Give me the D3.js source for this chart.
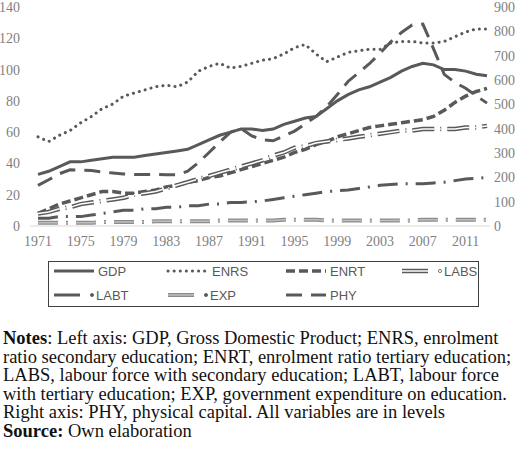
<!DOCTYPE html>
<html>
<head>
<meta charset="utf-8">
<script src="https://cdn.jsdelivr.net/npm/d3@7"></script>
<style>
body { margin: 0; background: #fff; }
svg text { font-family: "Liberation Serif", serif; }
</style>
</head>
<body>
<div id="chart"></div>
<script>
const years = d3.range(1971, 2014);
const xTicks = [1971, 1975, 1979, 1983, 1987, 1991, 1995, 1999, 2003, 2007, 2011];
const leftTicks = [0, 20, 40, 60, 80, 100, 120, 140];
const rightTicks = [0, 100, 200, 300, 400, 500, 600, 700, 800, 900];

// left axis series, 1971..2013
const gdp = [33,35,38,41,41,42,43,44,44,44,45,46,47,48,49,52,55,58,60,62,62,61,62,65,67,69,70,75,80,84,87,89,92,95,99,102,104,103,100,100,99,97,96];
const enrs = [57,54,58,61,66,70,75,78,83,85,87,89,90,89,92,99,102,104,101,102,104,106,107,110,114,116,110,105,108,111,112,113,113,117,118,118,117,117,118,121,124,126,126];
const enrt = [8,11,14,16,18,20,22,22,21,21,22,23,25,26,28,29,31,32,34,36,38,40,42,44,47,49,52,54,57,59,61,63,64,65,66,67,68,70,74,79,83,86,88];
const labs = [8,9,11,12,14,15,16,17,18,20,21,22,24,26,28,30,32,34,36,38,40,42,45,47,50,51,53,54,55,56,57,58,59,60,61,61,62,62,62,62,63,63,64];
const labt = [5,5,6,6,6,7,8,9,10,10,11,11,12,12,13,13,14,14,15,15,15.5,16,17,18,19,20,21,22,22.5,23,24,25,26,26.5,27,27,27,27.5,28,29,30,30.5,31];
const expd = [2,2,2,2,2,2,2.5,2.5,2.5,2.5,2.5,3,3,3,3,3,3,3.5,3.5,3.5,3.5,3.5,3.5,4,4,4,4,3.5,3.5,3.5,3.5,3.5,3.5,3.5,3.5,3.5,4,4,4,4,4,4,4];
// right axis series
const phy = [167,190,215,231,230,228,222,218,214,212,212,212,211,210,225,260,302,345,385,400,370,355,350,370,390,420,450,490,540,594,630,667,710,757,795,826,830,728,623,590,566,535,505];

const W = 520, H = 464;
const svg = d3.select("#chart").append("svg").attr("width", W).attr("height", H);

const x = d3.scaleLinear().domain([1971, 2013]).range([38, 487]);
const yL = d3.scaleLinear().domain([0, 140]).range([226, 7]);
const yR = d3.scaleLinear().domain([0, 900]).range([226, 7]);

svg.append("line").attr("x1", 30).attr("x2", 490).attr("y1", 226).attr("y2", 226)
  .attr("stroke", "#d9d9d9").attr("stroke-width", 1);

const tcol = "#7f7f7f";
svg.selectAll(".lt").data(leftTicks).join("text").attr("class", "lt")
  .attr("x", 20).attr("y", d => yL(d) + 5).attr("text-anchor", "end")
  .attr("font-size", 14).attr("fill", tcol).text(d => d);
svg.selectAll(".rt").data(rightTicks).join("text").attr("class", "rt")
  .attr("x", 494).attr("y", d => yR(d) + 5)
  .attr("font-size", 14).attr("fill", tcol).text(d => d);
svg.selectAll(".xt").data(xTicks).join("text").attr("class", "xt")
  .attr("x", d => x(d)).attr("y", 246).attr("text-anchor", "middle")
  .attr("font-size", 14).attr("fill", tcol).text(d => d);

const dark = "#595959";
const styles = {
  GDP:  {stroke: dark, w: 3, dash: null},
  ENRS: {stroke: dark, w: 3, dash: "0.1 6", cap: "round"},
  ENRT: {stroke: dark, w: 3.5, dash: "9 4"},
  LABS: {stroke: dark, w: 4.5, dash: "22 6 1 6", inner: "#fff"},
  LABT: {stroke: dark, w: 3, dash: "20 8 2 8"},
  EXP:  {stroke: "#8c8c8c", w: 4, dash: "20 8 2 8", inner: "#bfbfbf"},
  PHY:  {stroke: dark, w: 3, dash: "16 9"}
};
const series = [
  {name: "GDP", v: gdp, y: yL}, {name: "ENRS", v: enrs, y: yL},
  {name: "ENRT", v: enrt, y: yL}, {name: "LABS", v: labs, y: yL},
  {name: "LABT", v: labt, y: yL}, {name: "EXP", v: expd, y: yL},
  {name: "PHY", v: phy, y: yR}
];

function styled(sel, s, inner) {
  sel.attr("fill", "none")
    .attr("stroke", inner ? s.inner : s.stroke)
    .attr("stroke-width", inner ? 1.5 : s.w)
    .attr("stroke-dasharray", s.dash)
    .attr("stroke-linecap", s.cap || "butt");
}

series.forEach(sr => {
  const s = styles[sr.name];
  const line = d3.line().x((d, i) => x(years[i])).y(d => sr.y(d));
  styled(svg.append("path").attr("d", line(sr.v)), s, false);
  if (s.inner) styled(svg.append("path").attr("d", line(sr.v)), s, true);
});

// legend
svg.append("rect").attr("x", 48.5).attr("y", 261.5).attr("width", 430).attr("height", 45)
  .attr("fill", "none").attr("stroke", "#404040").attr("stroke-width", 1);
const legendPos = [[54, 271], [168, 271], [286, 271], [402, 271], [54, 295], [168, 295], [286, 295]];
const dotted = ["LABS", "LABT", "EXP"];
series.forEach((sr, i) => {
  const s = styles[sr.name];
  const [lx, yy] = legendPos[i];
  const ls = Object.assign({}, s, {dash: dotted.includes(sr.name) ? null : s.dash});
  const seg = (x1, x2, inner) => styled(svg.append("line").attr("x1", x1).attr("x2", x2)
    .attr("y1", yy).attr("y2", yy), ls, inner);
  let tx;
  if (dotted.includes(sr.name)) {
    seg(lx, lx + 26, false);
    if (s.inner) seg(lx, lx + 26, true);
    svg.append("circle").attr("cx", lx + 38).attr("cy", yy).attr("r", 1.6)
      .attr("fill", sr.name === "LABS" ? "#fff" : dark).attr("stroke", dark).attr("stroke-width", 0.8);
    tx = lx + 42;
  } else {
    seg(lx, lx + 40, false);
    tx = lx + 44;
  }
  svg.append("text").attr("x", tx).attr("y", yy + 5)
    .style("font-family", "'Liberation Sans', Arial, sans-serif")
    .attr("font-size", 13).attr("fill", dark).text(sr.name);
});

// notes
const notes = [
  [["Notes", true], [": Left axis: GDP, Gross Domestic Product; ENRS, enrolment", false]],
  [["ratio secondary education; ENRT, enrolment ratio tertiary education;", false]],
  [["LABS, labour force with secondary education; LABT, labour force", false]],
  [["with tertiary education; EXP, government expenditure on education.", false]],
  [["Right axis: PHY, physical capital. All variables are in levels", false]],
  [["Source:", true], [" Own elaboration", false]]
];
notes.forEach((parts, i) => {
  const t = svg.append("text").attr("x", 3).attr("y", 344 + i * 18.6)
    .attr("font-size", 18.5).attr("fill", "#111");
  parts.forEach(p => t.append("tspan").attr("font-weight", p[1] ? "bold" : "normal").text(p[0]));
});
</script>
</body>
</html>
